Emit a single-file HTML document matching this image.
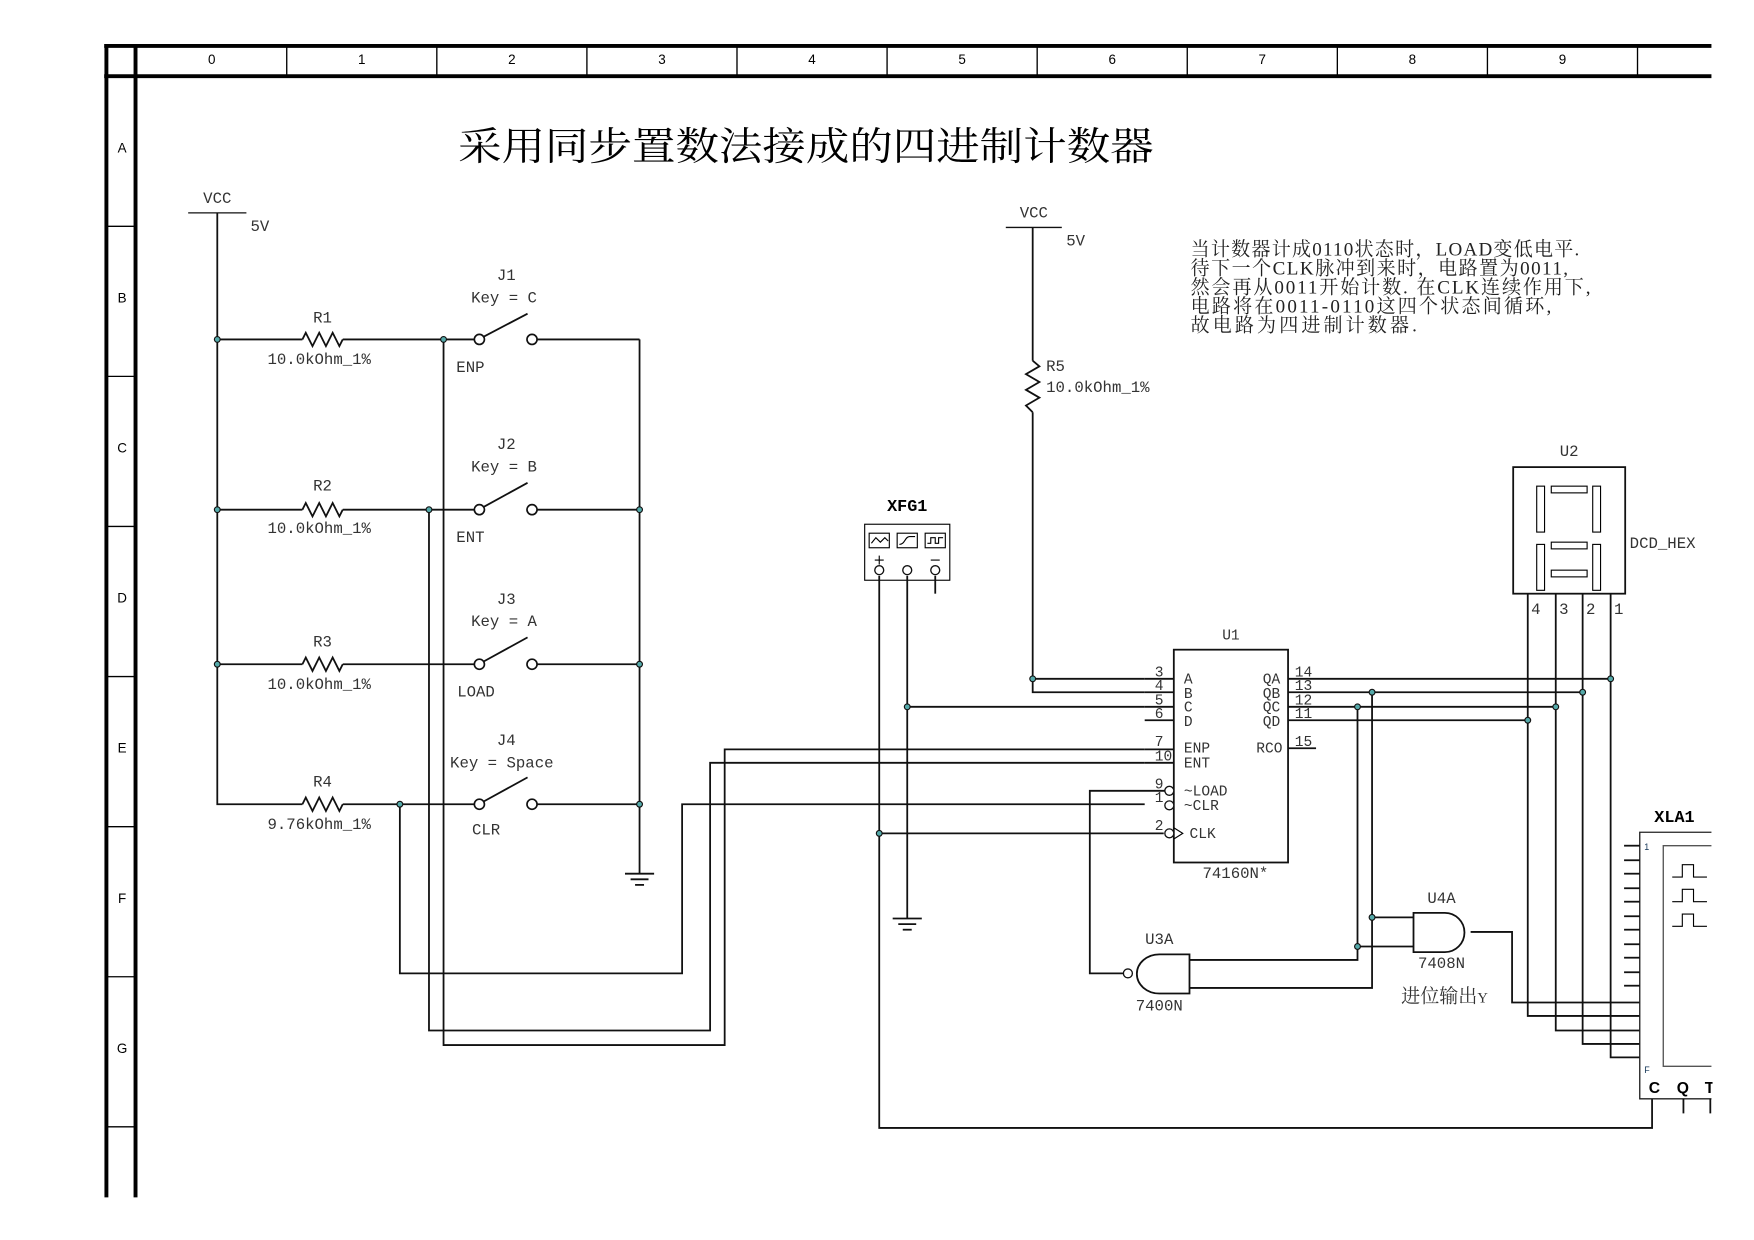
<!DOCTYPE html>
<html><head><meta charset="utf-8"><style>
html,body{margin:0;padding:0;background:#fff;}
svg{display:block;}
.m{font-family:"Liberation Mono","Noto Sans CJK SC",monospace;font-size:14px;fill:#333;}
.s{font-family:"Liberation Sans",sans-serif;font-size:12px;fill:#000;}
.w{stroke:#111;stroke-width:1.6;fill:none;}
.t{stroke:#000;stroke-width:1;fill:none;}
.d{fill:#5aa;stroke:#111;stroke-width:1;}
</style></head><body>
<svg width="1754" height="1240" viewBox="0 0 1566 1107" xmlns="http://www.w3.org/2000/svg">
<rect width="1566" height="1107" fill="#fff"/>
<g stroke="#000" fill="none">
<line x1="93" y1="41" x2="1528" y2="41" stroke-width="3.5"/>
<line x1="93" y1="68" x2="1528" y2="68" stroke-width="3.5"/>
<line x1="95" y1="41" x2="95" y2="1069" stroke-width="3.5"/>
<line x1="121" y1="41" x2="121" y2="1069" stroke-width="3.5"/>
<g stroke-width="1.2">
<line x1="256" y1="41" x2="256" y2="68"/><line x1="390" y1="41" x2="390" y2="68"/><line x1="524" y1="41" x2="524" y2="68"/><line x1="658" y1="41" x2="658" y2="68"/><line x1="792" y1="41" x2="792" y2="68"/><line x1="926" y1="41" x2="926" y2="68"/><line x1="1060" y1="41" x2="1060" y2="68"/><line x1="1194" y1="41" x2="1194" y2="68"/><line x1="1328" y1="41" x2="1328" y2="68"/><line x1="1462" y1="41" x2="1462" y2="68"/>
<line x1="95" y1="202" x2="121" y2="202"/><line x1="95" y1="336" x2="121" y2="336"/><line x1="95" y1="470" x2="121" y2="470"/><line x1="95" y1="604" x2="121" y2="604"/><line x1="95" y1="738" x2="121" y2="738"/><line x1="95" y1="872" x2="121" y2="872"/><line x1="95" y1="1006" x2="121" y2="1006"/>
</g></g>
<g class="s" text-anchor="middle">
<text x="189" y="57">0</text><text x="323" y="57">1</text><text x="457" y="57">2</text><text x="591" y="57">3</text><text x="725" y="57">4</text><text x="859" y="57">5</text><text x="993" y="57">6</text><text x="1127" y="57">7</text><text x="1261" y="57">8</text><text x="1395" y="57">9</text>
<text x="109" y="136">A</text><text x="109" y="270">B</text><text x="109" y="404">C</text><text x="109" y="538">D</text><text x="109" y="672">E</text><text x="109" y="806">F</text><text x="109" y="940">G</text>
</g>
<text x="409" y="143" textLength="621" lengthAdjust="spacingAndGlyphs" style="font-family:'Liberation Serif','Noto Serif CJK SC',serif;font-size:35px;fill:#000">采用同步置数法接成的四进制计数器</text>

<g style="font-family:'Liberation Serif','Noto Serif CJK SC',serif;font-size:17px;fill:#222">
<text x="1063" y="228" textLength="347" lengthAdjust="spacing">当计数器计成0110状态时，LOAD变低电平.</text>
<text x="1063" y="245" textLength="337" lengthAdjust="spacing">待下一个CLK脉冲到来时，电路置为0011,</text>
<text x="1063" y="262" textLength="357" lengthAdjust="spacing">然会再从0011开始计数. 在CLK连续作用下,</text>
<text x="1063" y="279" textLength="322" lengthAdjust="spacing">电路将在0011-0110这四个状态间循环,</text>
<text x="1063" y="296" textLength="202" lengthAdjust="spacing">故电路为四进制计数器.</text>
</g>

<g class="w">
<line x1="168" y1="190" x2="220" y2="190" stroke-width="1.2"/>
<polyline points="194,190 194,718 270,718"/>
<line x1="194" y1="303" x2="270" y2="303"/><line x1="194" y1="455" x2="270" y2="455"/><line x1="194" y1="593" x2="270" y2="593"/>
<polyline points="270,303 273,297 279,309 285,297 291,309 297,297 303,309 306,303"/>
<polyline points="270,455 273,449 279,461 285,449 291,461 297,449 303,461 306,455"/>
<polyline points="270,593 273,587 279,599 285,587 291,599 297,587 303,599 306,593"/>
<polyline points="270,718 273,712 279,724 285,712 291,724 297,712 303,724 306,718"/>
<line x1="306" y1="303" x2="424" y2="303"/><line x1="306" y1="455" x2="424" y2="455"/><line x1="306" y1="593" x2="424" y2="593"/><line x1="306" y1="718" x2="424" y2="718"/>
<line x1="479" y1="303" x2="571" y2="303"/><line x1="479" y1="455" x2="571" y2="455"/><line x1="479" y1="593" x2="571" y2="593"/><line x1="479" y1="718" x2="571" y2="718"/>
<line x1="431" y1="301" x2="471" y2="280"/><line x1="431" y1="453" x2="471" y2="431"/><line x1="431" y1="591" x2="471" y2="569"/><line x1="431" y1="716" x2="471" y2="694"/>
<line x1="571" y1="303" x2="571" y2="780"/>
<line x1="558" y1="780" x2="584" y2="780"/><line x1="563" y1="785" x2="579" y2="785"/><line x1="567" y1="790" x2="575" y2="790"/>
<polyline points="396,303 396,933 647,933 647,669 1022,669"/>
<polyline points="383,455 383,920 634,920 634,681 1022,681"/>
<polyline points="357,718 357,869 609,869 609,718 1022,718"/>
</g>
<g fill="#fff" stroke="#111" stroke-width="1.5">
<circle cx="428" cy="303" r="4.5"/><circle cx="475" cy="303" r="4.5"/>
<circle cx="428" cy="455" r="4.5"/><circle cx="475" cy="455" r="4.5"/>
<circle cx="428" cy="593" r="4.5"/><circle cx="475" cy="593" r="4.5"/>
<circle cx="428" cy="718" r="4.5"/><circle cx="475" cy="718" r="4.5"/>
</g>
<g class="m" text-anchor="middle">
<text x="194" y="181">VCC</text><text x="232" y="206">5V</text>
<text x="288" y="288">R1</text><text x="285" y="325">10.0kOhm_1%</text>
<text x="288" y="438">R2</text><text x="285" y="476">10.0kOhm_1%</text>
<text x="288" y="577">R3</text><text x="285" y="615">10.0kOhm_1%</text>
<text x="288" y="702">R4</text><text x="285" y="740">9.76kOhm_1%</text>
<text x="452" y="250">J1</text><text x="450" y="270">Key = C</text><text x="420" y="332">ENP</text>
<text x="452" y="401">J2</text><text x="450" y="421">Key = B</text><text x="420" y="484">ENT</text>
<text x="452" y="539">J3</text><text x="450" y="559">Key = A</text><text x="425" y="622">LOAD</text>
<text x="452" y="665">J4</text><text x="448" y="685">Key = Space</text><text x="434" y="745">CLR</text>
</g>

<g class="w">
<line x1="898" y1="203" x2="948" y2="203" stroke-width="1.2"/>
<line x1="922" y1="203" x2="922" y2="322"/>
<polyline points="922,322 928,327 916,334 928,341 916,348 928,355 916,362 922,368"/>
<polyline points="922,368 922,618 1022,618"/>
<line x1="922" y1="606" x2="1022" y2="606"/>
<line x1="810" y1="631" x2="1022" y2="631"/>
<line x1="1022" y1="643" x2="1048" y2="643"/>
<polyline points="1003,869 973,869 973,706 1040,706"/>
<line x1="785" y1="744" x2="1039" y2="744"/>
</g>
<g class="m">
<text x="923" y="194" text-anchor="middle">VCC</text><text x="952" y="219">5V</text>
<text x="934" y="331">R5</text><text x="934" y="350">10.0kOhm_1%</text>
</g>

<text x="810" y="456" text-anchor="middle" style="font-family:'Liberation Mono',monospace;font-weight:bold;font-size:15px;fill:#000">XFG1</text>
<rect x="772" y="468" width="76" height="50" class="t" stroke-width="1.2"/>
<g class="t">
<rect x="776" y="476" width="18" height="13"/><rect x="801" y="476" width="18" height="13"/><rect x="826" y="476" width="18" height="13"/>
<polyline points="778,485 782,480 786,484 790,480 793,483"/>
<path d="M803,486 C808,486 808,479 812,479 L817,479"/>
<polyline points="828,485 831,485 831,480 835,480 835,485 838,485 838,480 842,480"/>
<line x1="785" y1="496" x2="785" y2="504"/><line x1="781" y1="500" x2="789" y2="500"/>
<line x1="831" y1="500" x2="839" y2="500"/>
</g>
<g class="w">
<polyline points="785,514 785,1007 1475,1007 1475,981"/>
<line x1="810" y1="514" x2="810" y2="820"/>
<line x1="797" y1="820" x2="823" y2="820"/><line x1="802" y1="825" x2="818" y2="825"/><line x1="806" y1="830" x2="814" y2="830"/>
<line x1="835" y1="514" x2="835" y2="530"/>
</g>
<g fill="#fff" stroke="#111" stroke-width="1.2">
<circle cx="785" cy="509" r="4"/><circle cx="810" cy="509" r="4"/><circle cx="835" cy="509" r="4"/>
</g>

<rect x="1048" y="580" width="102" height="190" fill="none" stroke="#111" stroke-width="1.6"/>
<g class="w">
<line x1="1022" y1="606" x2="1048" y2="606"/><line x1="1022" y1="618" x2="1048" y2="618"/><line x1="1022" y1="631" x2="1048" y2="631"/>
<line x1="1022" y1="669" x2="1048" y2="669"/><line x1="1022" y1="681" x2="1048" y2="681"/>
<line x1="1150" y1="668" x2="1175" y2="668"/>
<line x1="1150" y1="606" x2="1438" y2="606"/>
<line x1="1150" y1="618" x2="1413" y2="618"/>
<line x1="1150" y1="631" x2="1389" y2="631"/>
<line x1="1150" y1="643" x2="1364" y2="643"/>
</g>
<g fill="#fff" stroke="#111" stroke-width="1.2">
<circle cx="1044" cy="706" r="4"/><circle cx="1044" cy="719" r="4"/><circle cx="1044" cy="744" r="4"/>
</g>
<polyline points="1048,739 1056,744 1048,749" class="t"/>
<g class="m" style="font-size:13px">
<text x="1099" y="571" text-anchor="middle">U1</text>
<text x="1031" y="604">3</text><text x="1031" y="616">4</text><text x="1031" y="629">5</text><text x="1031" y="641">6</text>
<text x="1031" y="666">7</text><text x="1031" y="679">10</text><text x="1031" y="704">9</text><text x="1031" y="716">1</text><text x="1031" y="741">2</text>
<text x="1057" y="610">A</text><text x="1057" y="623">B</text><text x="1057" y="635">C</text><text x="1057" y="648">D</text>
<text x="1057" y="672">ENP</text><text x="1057" y="685">ENT</text>
<text x="1057" y="710">~LOAD</text><text x="1057" y="723">~CLR</text><text x="1062" y="748">CLK</text>
<text x="1143" y="610" text-anchor="end">QA</text><text x="1143" y="623" text-anchor="end">QB</text><text x="1143" y="635" text-anchor="end">QC</text><text x="1143" y="648" text-anchor="end">QD</text>
<text x="1145" y="672" text-anchor="end">RCO</text>
<text x="1156" y="604">14</text><text x="1156" y="616">13</text><text x="1156" y="629">12</text><text x="1156" y="641">11</text><text x="1156" y="666">15</text>
<text x="1103" y="784" text-anchor="middle" style="font-size:14px">74160N*</text>
</g>

<rect x="1351" y="417" width="100" height="113" fill="none" stroke="#111" stroke-width="1.6"/>
<g class="t" stroke="#333">
<rect x="1385" y="434" width="32" height="6"/><rect x="1385" y="484" width="32" height="6"/><rect x="1385" y="509" width="32" height="6"/>
<rect x="1372" y="434" width="7" height="41"/><rect x="1422" y="434" width="7" height="41"/>
<rect x="1372" y="486" width="7" height="41"/><rect x="1422" y="486" width="7" height="41"/>
</g>
<g class="m">
<text x="1401" y="407" text-anchor="middle">U2</text><text x="1455" y="489">DCD_HEX</text>
<text x="1367" y="548">4</text><text x="1392" y="548">3</text><text x="1416" y="548">2</text><text x="1441" y="548">1</text>
</g>
<g class="w">
<polyline points="1364,530 1364,907 1464,907"/>
<polyline points="1389,530 1389,920 1464,920"/>
<polyline points="1413,530 1413,932 1464,932"/>
<polyline points="1438,530 1438,944 1464,944"/>
<polyline points="1313,832 1350,832 1350,895 1464,895"/>
<polyline points="1225,618 1225,882 1062,882"/>
<polyline points="1212,631 1212,857 1062,857"/>
<line x1="1225" y1="819" x2="1262" y2="819"/>
<line x1="1212" y1="845" x2="1262" y2="845"/>
</g>
<path d="M1262,815 L1290,815 A17,17 0 0 1 1290,850 L1262,850 Z" fill="none" stroke="#111" stroke-width="1.6"/>
<path d="M1062,852 L1035,852 A20,17.5 0 0 0 1035,887 L1062,887 Z" fill="none" stroke="#111" stroke-width="1.6"/>
<circle cx="1007" cy="869" r="4" fill="#fff" stroke="#111" stroke-width="1.2"/>
<g class="m">
<text x="1287" y="806" text-anchor="middle">U4A</text><text x="1287" y="864" text-anchor="middle">7408N</text>
<text x="1035" y="843" text-anchor="middle">U3A</text><text x="1035" y="902" text-anchor="middle">7400N</text>
</g>
<text x="1251" y="895" style="font-family:'Liberation Serif','Noto Serif CJK SC',serif;font-size:17px;fill:#333">进位输出<tspan style="font-size:13px">Y</tspan></text>

<text x="1495" y="734" text-anchor="middle" style="font-family:'Liberation Mono',monospace;font-weight:bold;font-size:15px;fill:#000">XLA1</text>
<path d="M1528,743 L1464,743 L1464,981 L1528,981" fill="none" stroke="#222" stroke-width="1.2"/>
<path d="M1528,755 L1485,755 L1485,952 L1528,952" fill="none" stroke="#555" stroke-width="1.2"/>
<g class="t" stroke="#333">
<polyline points="1493,783 1502,783 1502,772 1512,772 1512,783 1524,783"/>
<polyline points="1493,805 1502,805 1502,794 1512,794 1512,805 1524,805"/>
<polyline points="1493,827 1502,827 1502,816 1512,816 1512,827 1524,827"/>
</g>
<g stroke="#111" stroke-width="1.6">
<line x1="1450" y1="755" x2="1464" y2="755"/><line x1="1450" y1="768" x2="1464" y2="768"/><line x1="1450" y1="780" x2="1464" y2="780"/><line x1="1450" y1="793" x2="1464" y2="793"/><line x1="1450" y1="805" x2="1464" y2="805"/><line x1="1450" y1="818" x2="1464" y2="818"/><line x1="1450" y1="830" x2="1464" y2="830"/><line x1="1450" y1="843" x2="1464" y2="843"/><line x1="1450" y1="855" x2="1464" y2="855"/><line x1="1450" y1="868" x2="1464" y2="868"/><line x1="1450" y1="880" x2="1464" y2="880"/>
<line x1="1503" y1="981" x2="1503" y2="994"/><line x1="1527" y1="981" x2="1527" y2="994"/>
</g>
<text x="1468" y="759" style="font-family:'Liberation Sans',sans-serif;font-size:8px;fill:#135">1</text>
<text x="1468" y="958" style="font-family:'Liberation Sans',sans-serif;font-size:8px;fill:#135">F</text>
<g style="font-family:'Liberation Sans',sans-serif;font-weight:bold;font-size:14px;fill:#000">
<text x="1472" y="976">C</text><text x="1497" y="976">Q</text><text x="1522" y="976">T</text>
</g>
<rect x="1529" y="730" width="40" height="280" fill="#fff"/>

<g class="d">
<circle cx="194" cy="303" r="2.6"/><circle cx="194" cy="455" r="2.6"/><circle cx="194" cy="593" r="2.6"/>
<circle cx="396" cy="303" r="2.6"/><circle cx="383" cy="455" r="2.6"/><circle cx="357" cy="718" r="2.6"/>
<circle cx="571" cy="455" r="2.6"/><circle cx="571" cy="593" r="2.6"/><circle cx="571" cy="718" r="2.6"/>
<circle cx="922" cy="606" r="2.6"/><circle cx="810" cy="631" r="2.6"/><circle cx="785" cy="744" r="2.6"/>
<circle cx="1438" cy="606" r="2.6"/><circle cx="1413" cy="618" r="2.6"/><circle cx="1389" cy="631" r="2.6"/><circle cx="1364" cy="643" r="2.6"/>
<circle cx="1225" cy="618" r="2.6"/><circle cx="1212" cy="631" r="2.6"/>
<circle cx="1225" cy="819" r="2.6"/><circle cx="1212" cy="845" r="2.6"/>
</g>
</svg>
</body></html>
